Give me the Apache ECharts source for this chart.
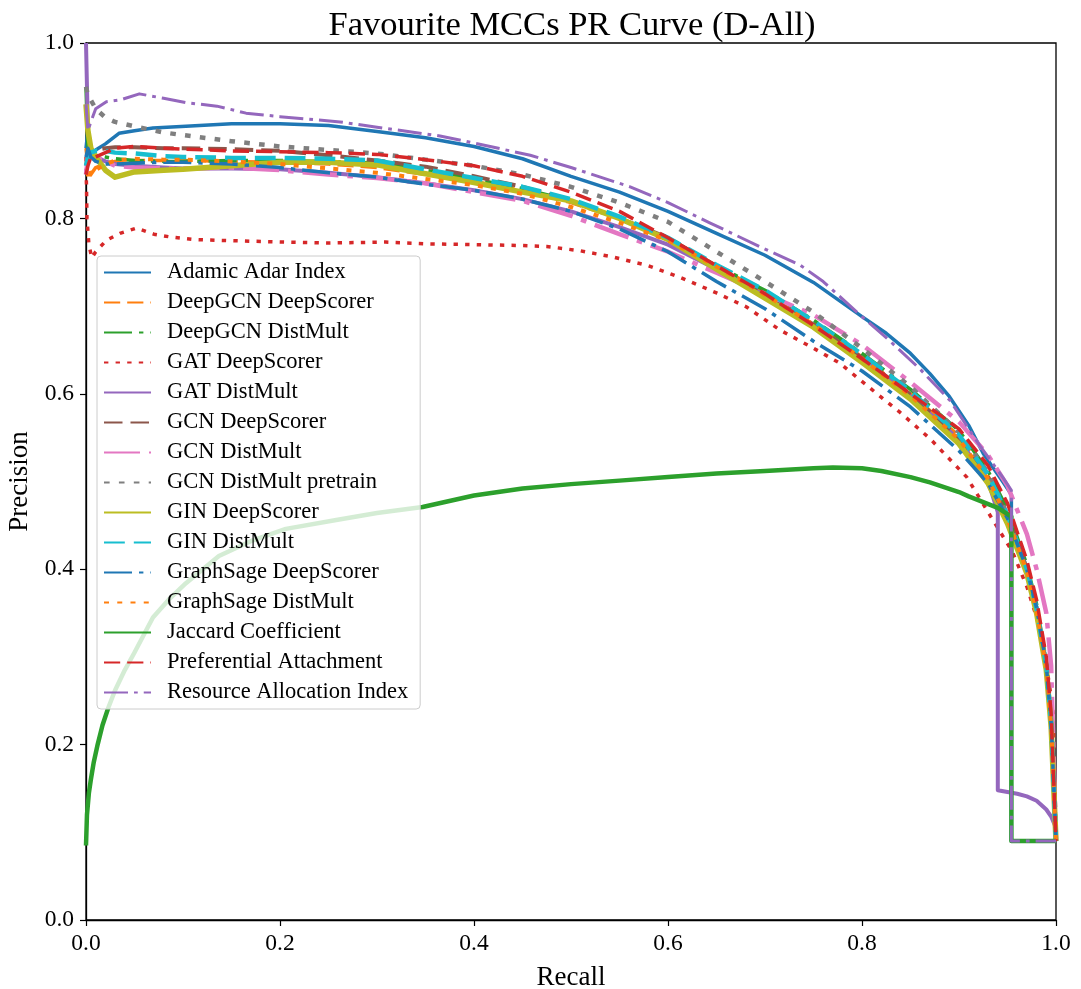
<!DOCTYPE html>
<html>
<head>
<meta charset="utf-8">
<script src="https://cdn.jsdelivr.net/npm/echarts/dist/echarts.min.js"></script>
<style>
  html, body { margin: 0; padding: 0; background: #ffffff; }
  #chart { width: 1081px; height: 989px; }
</style>
</head>
<body>
<div id="chart"></div>
<script>
// ---- data ---------------------------------------------------------------
const titleText = 'Favourite MCCs PR Curve (D-All)';
const xAxisName = 'Recall';
const yAxisName = 'Precision';
const tickValues = [0, 0.2, 0.4, 0.6, 0.8, 1.0];

// shared recall grid for the learned models
const recallGrid = [0, 0.002, 0.005, 0.01, 0.02, 0.03, 0.05, 0.08, 0.1, 0.15, 0.2, 0.25, 0.3, 0.35, 0.4, 0.45,
  0.5, 0.55, 0.6, 0.65, 0.7, 0.75, 0.8, 0.85, 0.9, 0.93, 0.95, 0.97, 0.98, 0.99, 0.995, 1.0];

const adamicRecall = [0, 0.002, 0.005, 0.01, 0.02, 0.034, 0.05, 0.069, 0.103, 0.15, 0.2, 0.25, 0.3, 0.35, 0.4,
  0.45, 0.5, 0.55, 0.6, 0.65, 0.7, 0.75, 0.8, 0.825, 0.85, 0.87, 0.89, 0.91, 0.925, 0.945, 0.954, 0.954, 1.0];
const adamicPrecision = [0.88, 0.9, 0.87, 0.878, 0.885, 0.897, 0.9, 0.903, 0.905, 0.908, 0.908, 0.906, 0.899,
  0.892, 0.882, 0.868, 0.848, 0.83, 0.808, 0.783, 0.758, 0.727, 0.688, 0.669, 0.646, 0.623, 0.597, 0.564, 0.532,
  0.5, 0.485, 0.09, 0.09];

const deepgcnDeepScorer = [0.88, 0.86, 0.85, 0.858, 0.862, 0.865, 0.866, 0.866, 0.866, 0.865, 0.864, 0.862,
  0.858, 0.85, 0.842, 0.832, 0.818, 0.8, 0.777, 0.746, 0.715, 0.681, 0.642, 0.6, 0.552, 0.506, 0.46, 0.4, 0.355,
  0.29, 0.225, 0.09];

const deepgcnDistMult = [0.95, 0.88, 0.875, 0.872, 0.87, 0.868, 0.866, 0.865, 0.865, 0.866, 0.866, 0.865, 0.863,
  0.855, 0.845, 0.834, 0.82, 0.8, 0.777, 0.746, 0.718, 0.684, 0.646, 0.605, 0.558, 0.512, 0.468, 0.405, 0.36,
  0.295, 0.23, 0.09];

const gatDeepScorerRecall = [0, 0.001, 0.003, 0.006, 0.01, 0.021, 0.035, 0.052, 0.07, 0.086, 0.11, 0.137, 0.17,
  0.206, 0.25, 0.309, 0.35, 0.406, 0.45, 0.475, 0.51, 0.543, 0.58, 0.612, 0.65, 0.681, 0.715, 0.75, 0.777, 0.81,
  0.839, 0.87, 0.908, 0.935, 0.955, 0.97, 0.98, 0.987, 0.993, 0.997, 1.0];
const gatDeepScorerPrecision = [0.87, 0.8, 0.77, 0.755, 0.762, 0.775, 0.783, 0.789, 0.782, 0.779, 0.776, 0.775,
  0.774, 0.773, 0.772, 0.773, 0.771, 0.77, 0.769, 0.768, 0.763, 0.756, 0.746, 0.733, 0.715, 0.699, 0.673, 0.652,
  0.635, 0.605, 0.579, 0.549, 0.505, 0.456, 0.42, 0.38, 0.345, 0.311, 0.27, 0.236, 0.1];

const gatDistMultRecall = [0, 0.002, 0.005, 0.01, 0.02, 0.03, 0.05, 0.08, 0.1, 0.15, 0.2, 0.25, 0.3, 0.35, 0.4,
  0.45, 0.5, 0.55, 0.6, 0.65, 0.7, 0.75, 0.8, 0.85, 0.9, 0.93, 0.94, 0.94, 0.95, 0.96, 0.97, 0.98, 0.99, 0.995, 1.0];
const gatDistMultPrecision = [1.0, 0.9, 0.88, 0.87, 0.865, 0.862, 0.86, 0.858, 0.857, 0.857, 0.856, 0.852, 0.847,
  0.84, 0.832, 0.822, 0.808, 0.79, 0.77, 0.742, 0.712, 0.678, 0.64, 0.597, 0.548, 0.5, 0.465, 0.148, 0.146,
  0.144, 0.141, 0.136, 0.126, 0.118, 0.105];

const gcnDeepScorer = [0.86, 0.87, 0.875, 0.878, 0.88, 0.881, 0.881, 0.88, 0.88, 0.879, 0.877, 0.872, 0.866,
  0.859, 0.848, 0.836, 0.82, 0.8, 0.778, 0.745, 0.713, 0.679, 0.641, 0.599, 0.55, 0.505, 0.46, 0.4, 0.355, 0.29,
  0.225, 0.09];

const gcnDistMult = [0.85, 0.87, 0.875, 0.87, 0.865, 0.86, 0.858, 0.857, 0.857, 0.858, 0.855, 0.85, 0.846, 0.84,
  0.83, 0.82, 0.803, 0.782, 0.762, 0.738, 0.714, 0.69, 0.656, 0.613, 0.568, 0.53, 0.495, 0.44, 0.4, 0.35, 0.29,
  0.09];

const gcnDistMultPretrain = [0.95, 0.94, 0.935, 0.925, 0.915, 0.91, 0.905, 0.898, 0.895, 0.888, 0.882, 0.878,
  0.874, 0.867, 0.86, 0.85, 0.836, 0.818, 0.796, 0.762, 0.728, 0.693, 0.652, 0.608, 0.556, 0.51, 0.462, 0.4,
  0.355, 0.29, 0.225, 0.09];

const ginDeepScorer = [0.93, 0.9, 0.88, 0.87, 0.855, 0.847, 0.853, 0.855, 0.856, 0.86, 0.864, 0.864, 0.861,
  0.851, 0.841, 0.83, 0.82, 0.8, 0.776, 0.742, 0.709, 0.676, 0.636, 0.594, 0.543, 0.498, 0.452, 0.395, 0.35,
  0.285, 0.22, 0.09];

const ginDistMult = [0.86, 0.87, 0.875, 0.877, 0.877, 0.875, 0.874, 0.871, 0.87, 0.869, 0.869, 0.868, 0.866,
  0.856, 0.846, 0.836, 0.822, 0.802, 0.778, 0.747, 0.718, 0.683, 0.645, 0.603, 0.553, 0.508, 0.462, 0.4, 0.355,
  0.29, 0.225, 0.09];

const graphSageDeepScorer = [0.87, 0.88, 0.87, 0.865, 0.862, 0.862, 0.863, 0.864, 0.864, 0.862, 0.858, 0.852,
  0.847, 0.839, 0.832, 0.822, 0.808, 0.788, 0.762, 0.728, 0.697, 0.66, 0.626, 0.585, 0.535, 0.498, 0.458, 0.4,
  0.356, 0.29, 0.225, 0.09];

const graphSageDistMult = [0.85, 0.85, 0.85, 0.855, 0.862, 0.866, 0.868, 0.867, 0.867, 0.865, 0.862, 0.857,
  0.852, 0.845, 0.838, 0.828, 0.813, 0.795, 0.775, 0.745, 0.713, 0.679, 0.64, 0.598, 0.548, 0.503, 0.457, 0.398,
  0.352, 0.288, 0.222, 0.09];

const jaccardRecall = [0, 0.001, 0.003, 0.005, 0.008, 0.012, 0.017, 0.023, 0.03, 0.04, 0.05, 0.069, 0.085, 0.103,
  0.137, 0.172, 0.206, 0.258, 0.3, 0.347, 0.4, 0.45, 0.5, 0.55, 0.6, 0.65, 0.7, 0.75, 0.77, 0.8, 0.82, 0.85, 0.87,
  0.9, 0.91, 0.94, 0.954, 0.954, 1.0];
const jaccardPrecision = [0.085, 0.12, 0.145, 0.16, 0.18, 0.2, 0.222, 0.242, 0.262, 0.285, 0.305, 0.345, 0.365,
  0.384, 0.415, 0.433, 0.446, 0.456, 0.464, 0.471, 0.484, 0.492, 0.497, 0.501, 0.505, 0.509, 0.512, 0.515, 0.516,
  0.515, 0.512, 0.505, 0.499, 0.488, 0.483, 0.47, 0.46, 0.09, 0.09];

const prefAttachment = [0.85, 0.86, 0.87, 0.87, 0.875, 0.88, 0.882, 0.88, 0.879, 0.877, 0.876, 0.875, 0.873,
  0.867, 0.86, 0.848, 0.83, 0.808, 0.778, 0.746, 0.714, 0.678, 0.64, 0.6, 0.56, 0.518, 0.475, 0.41, 0.365, 0.3,
  0.235, 0.09];

const resourceRecall = [0, 0.002, 0.005, 0.01, 0.021, 0.035, 0.055, 0.08, 0.103, 0.135, 0.165, 0.2, 0.262, 0.3,
  0.365, 0.4, 0.458, 0.5, 0.561, 0.6, 0.643, 0.7, 0.736, 0.76, 0.8, 0.829, 0.86, 0.891, 0.922, 0.945, 0.954,
  0.954, 1.0];
const resourcePrecision = [0.93, 0.9, 0.91, 0.925, 0.933, 0.935, 0.942, 0.937, 0.932, 0.928, 0.92, 0.916, 0.91,
  0.904, 0.894, 0.886, 0.872, 0.858, 0.836, 0.818, 0.795, 0.765, 0.747, 0.728, 0.688, 0.66, 0.628, 0.592, 0.54,
  0.505, 0.49, 0.09, 0.09];

// ---- series table (name, recall, precision, colour, width, dash) ----------
const curves = [
  ['Adamic Adar Index',            adamicRecall,        adamicPrecision,        '#1f77b4', 3.5, 'solid'],
  ['DeepGCN DeepScorer',           recallGrid,          deepgcnDeepScorer,      '#ff7f0e', 3.5, 'dashed'],
  ['DeepGCN DistMult',             recallGrid,          deepgcnDistMult,        '#2ca02c', 3.5, 'dashdot'],
  ['GAT DeepScorer',               gatDeepScorerRecall, gatDeepScorerPrecision, '#d62728', 3.5, 'dotted'],
  ['GAT DistMult',                 gatDistMultRecall,   gatDistMultPrecision,   '#9467bd', 4,   'solid'],
  ['GCN DeepScorer',               recallGrid,          gcnDeepScorer,          '#8c564b', 4,   'dashed'],
  ['GCN DistMult',                 recallGrid,          gcnDistMult,            '#e377c2', 4.5, 'dashdot'],
  ['GCN DistMult pretrain',        recallGrid,          gcnDistMultPretrain,    '#7f7f7f', 4.5, 'dotted'],
  ['GIN DeepScorer',               recallGrid,          ginDeepScorer,          '#bcbd22', 5.5, 'solid'],
  ['GIN DistMult',                 recallGrid,          ginDistMult,            '#17becf', 4.5, 'dashed'],
  ['GraphSage DeepScorer',         recallGrid,          graphSageDeepScorer,    '#1f77b4', 3.5, 'dashdot'],
  ['GraphSage DistMult',           recallGrid,          graphSageDistMult,      '#ff7f0e', 4,   'dotted'],
  ['Jaccard Coefficient',          jaccardRecall,       jaccardPrecision,       '#2ca02c', 4.5, 'solid'],
  ['Preferential Attachment',      recallGrid,          prefAttachment,         '#d62728', 3.5, 'dashed'],
  ['Resource Allocation Index',    resourceRecall,      resourcePrecision,      '#9467bd', 3,   'dashdot']
];

// matplotlib-like dash patterns, scaled with the line width
const DASH_SCALE = 1.25;
function dashFor(kind, lw) {
  const k = lw * DASH_SCALE;
  if (kind === 'dashed') return [3.7 * k, 1.6 * k];
  if (kind === 'dotted') return [1 * k, 1.65 * k];
  if (kind === 'dashdot') return [6.4 * k, 1.6 * k, 1 * k, 1.6 * k];
  return 'solid';
}

const FONT = '"Liberation Serif", "DejaVu Serif", serif';

const series = curves.map(([name, rec, prec, color, lw, kind]) => {
  const n = Math.min(rec.length, prec.length);
  const pts = [];
  for (let i = 0; i < n; i++) pts.push([rec[i], prec[i]]);
  return {
    name: name,
    type: 'line',
    data: pts,
    symbol: 'none',
    smooth: false,
    clip: true,
    animation: false,
    color: color,
    lineStyle: { color: color, width: lw, type: dashFor(kind, lw), cap: 'butt', join: 'round' },
    emphasis: { disabled: true }
  };
});

const axisCommon = {
  type: 'value',
  min: 0,
  max: 1,
  interval: 0.2,
  splitLine: { show: false },
  axisLine: { show: true, onZero: false, lineStyle: { color: '#000', width: 1.3 } },
  axisTick: { show: true, inside: false, length: 6, lineStyle: { color: '#000', width: 1.2 } },
  nameLocation: 'middle',
  nameTextStyle: { fontFamily: FONT, fontSize: 27, color: '#000' }
};

const chart = echarts.init(document.getElementById('chart'), null, { renderer: 'canvas' });
chart.setOption({
  backgroundColor: '#ffffff',
  animation: false,
  title: {
    text: titleText,
    left: 567,
    top: 3,
    textAlign: 'center',
    textStyle: { fontFamily: FONT, fontSize: 34.5, fontWeight: 'normal', color: '#000' }
  },
  grid: {
    left: 86, right: 25, top: 43, bottom: 69,
    containLabel: false,
    outerBoundsMode: 'none',
    show: true, borderColor: '#000', borderWidth: 1.3, backgroundColor: 'transparent'
  },
  xAxis: Object.assign({}, axisCommon, {
    name: xAxisName,
    nameGap: 44,
    axisLabel: {
      margin: 12, fontFamily: FONT, fontSize: 23.5, color: '#000',
      formatter: v => (tickValues.some(t => Math.abs(t - v) < 1e-9) ? v.toFixed(1) : '')
    }
  }),
  yAxis: Object.assign({}, axisCommon, {
    name: yAxisName,
    nameGap: 52,
    axisLabel: {
      margin: 12, fontFamily: FONT, fontSize: 23.5, color: '#000',
      formatter: v => (tickValues.some(t => Math.abs(t - v) < 1e-9) ? v.toFixed(1) : '')
    }
  }),
  legend: {
    orient: 'vertical',
    left: 97,
    top: 256,
    padding: [5, 12, 5, 6],
    itemWidth: 47,
    itemHeight: 14,
    itemGap: 7,
    backgroundColor: 'rgba(255,255,255,0.8)',
    borderColor: '#cccccc',
    borderWidth: 1,
    borderRadius: 4,
    selectedMode: false,
    itemStyle: { opacity: 0 },
    textStyle: { fontFamily: FONT, fontSize: 22.5, color: '#000', lineHeight: 22, padding: [0, 0, 0, 11] },
    data: curves.map(c => c[0])
  },
  series: series
});
</script>
</body>
</html>
